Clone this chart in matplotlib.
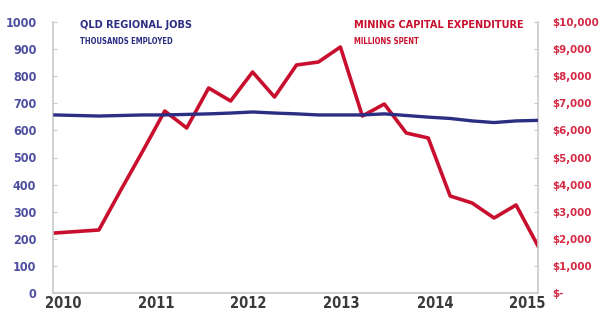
import matplotlib
matplotlib.use("Agg")
import matplotlib.pyplot as plt
from matplotlib.ticker import FixedLocator, FuncFormatter

plt.rcParams['font.family'] = ['DejaVu Sans']
plt.rcParams['font.stretch'] = 'condensed'

# quarterly-ish points from early 2010 to 2015
jobs = [657, 655, 653, 655, 657, 657, 659, 661, 664, 668, 664, 661,
        657, 657, 657, 661, 655, 649, 644, 635, 629, 635, 637]
capex = [2214, 2270, 2325, 3800, 5240, 6716, 6089, 7565, 7085, 8155, 7232, 8413,
         8524, 9077, 6531, 6974, 5904, 5720, 3579, 3321, 2768, 3247, 1734]
years = ["2010", "2011", "2012", "2013", "2014", "2015"]
year_pos = [0.36, 4.6, 8.8, 13.05, 17.3, 21.5]

blue = "#2b2e83"
blue_lbl = "#4d4fa0"
red = "#c8102e"
red_lbl = "#d42a45"
grey = "#c9c9c9"

fig = plt.figure(figsize=(6.03, 3.14), dpi=100)
ax = fig.add_axes([53 / 603, 21 / 314, 485 / 603, 271 / 314])
ax2 = ax.twinx()

x = list(range(len(jobs)))
ax.plot(x, jobs, color=blue, lw=2.4, zorder=3)
ax2.plot(x, capex, color=red, lw=2.6, zorder=2)
ax.set_zorder(ax2.get_zorder() + 1)
ax.patch.set_visible(False)

ax.set_xlim(-0.09, 22)
ax.set_ylim(0, 1000)
ax2.set_ylim(0, 10000)

for a in (ax, ax2):
    for s in a.spines.values():
        s.set_visible(False)
ax.spines['left'].set_visible(True)
ax.spines['bottom'].set_visible(True)
ax2.spines['right'].set_visible(True)
for s in (ax.spines['left'], ax.spines['bottom'], ax2.spines['right']):
    s.set_color(grey)
    s.set_linewidth(1.2)

ax.yaxis.set_major_locator(FixedLocator(range(0, 1001, 100)))
ax.tick_params(axis='y', colors=grey, length=3, direction='in', pad=12,
               labelcolor=blue_lbl, labelsize=9)
ax2.yaxis.set_major_locator(FixedLocator(range(0, 10001, 1000)))
ax2.yaxis.set_major_formatter(FuncFormatter(lambda v, p: "$-" if v == 0 else "${:,.0f}".format(v)))
ax2.tick_params(axis='y', colors=grey, length=3, direction='in', pad=10.5,
                labelcolor=red_lbl, labelsize=8.2)
for t in ax.get_yticklabels() + ax2.get_yticklabels():
    t.set_fontweight('bold')

ax.set_xticks(year_pos)
ax.set_xticklabels(years, fontsize=10.5, fontweight='bold', color="#3a3a3a")
ax.tick_params(axis='x', length=0, pad=2)

fig.text(80 / 603, 1 - 25 / 314, "QLD REGIONAL JOBS", color=blue, fontsize=7.8,
         fontweight='bold', va='center')
fig.text(80 / 603, 1 - 41 / 314, "THOUSANDS EMPLOYED", color=blue, fontsize=5.5,
         fontweight='bold', va='center')
fig.text(354 / 603, 1 - 25 / 314, "MINING CAPITAL EXPENDITURE", color=red, fontsize=7.8,
         fontweight='bold', va='center')
fig.text(354 / 603, 1 - 41 / 314, "MILLIONS SPENT", color=red, fontsize=5.5,
         fontweight='bold', va='center')

fig.savefig("out.png", dpi=100)
